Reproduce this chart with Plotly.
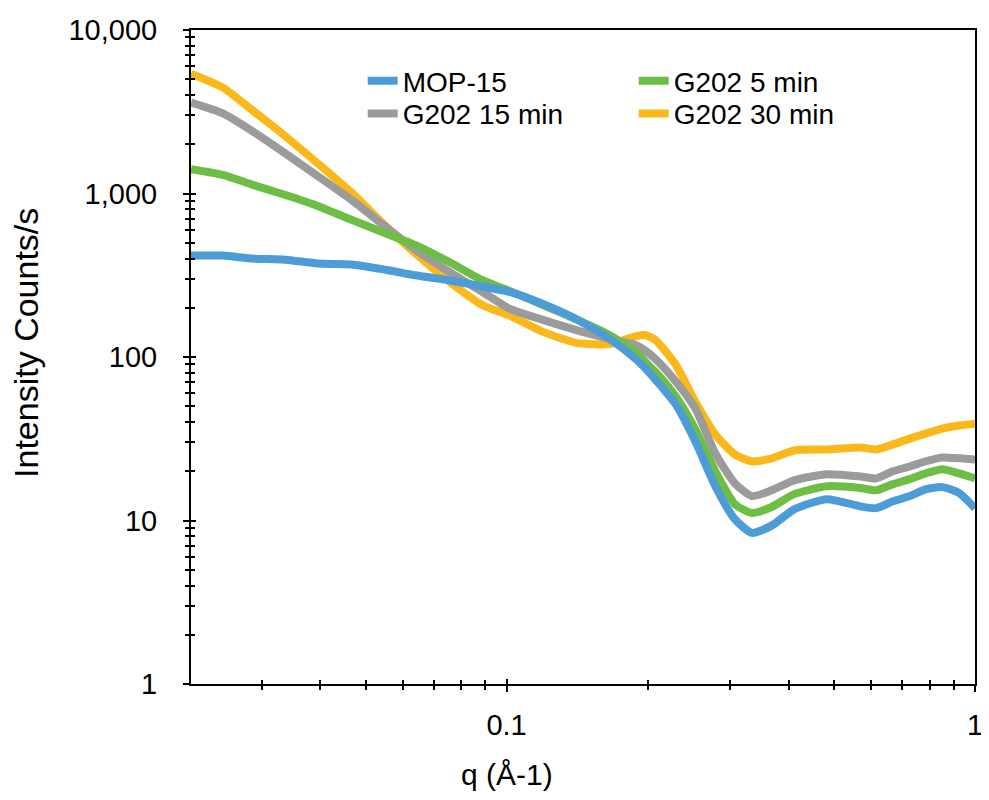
import plotly.graph_objects as go

# ---- data ----
q = [0.0212, 0.0248, 0.0287, 0.0337, 0.0395, 0.0467, 0.0548, 0.0643, 0.0758, 0.0890,
     0.102, 0.120, 0.141, 0.166, 0.189, 0.198, 0.208, 0.230, 0.253, 0.279,
     0.307, 0.334, 0.368, 0.411, 0.483, 0.569, 0.615, 0.668, 0.726, 0.784,
     0.852, 0.925, 1.0]

mop15 = [417, 417, 400, 394, 373, 368, 343, 315, 294, 270,
         249, 210, 170, 129, 97, 85, 72.5, 51, 30.4, 16.2,
         10.2, 8.4, 9.3, 11.7, 13.5, 12.2, 11.9, 13.1, 14.1, 15.5,
         16.0, 14.7, 11.9]

g202_5 = [1410, 1300, 1130, 979, 840, 690, 575, 480, 378, 294,
          252, 207, 170, 136, 107, 93, 81, 57, 36, 20,
          12.6, 11.1, 12.1, 14.5, 16.2, 15.8, 15.3, 16.7, 17.9, 19.4,
          20.6, 19.4, 18.1]

g202_15 = [3600, 3090, 2400, 1760, 1280, 913, 635, 447, 329, 249,
           196, 168, 146, 129, 118, 109, 97, 70.5, 48.3, 25.7,
           16.9, 14.1, 15.3, 17.6, 19.2, 18.6, 18.1, 20.0, 21.4, 23.0,
           24.3, 24.0, 23.6]

g202_30 = [5400, 4440, 3220, 2240, 1530, 1010, 644, 423, 286, 207,
           178, 142, 122, 120, 134, 136, 127, 89, 53, 33.6,
           25.4, 23.0, 24.0, 26.8, 27.2, 28.0, 27.2, 29.2, 31.7, 34.0,
           36.5, 38.1, 39.1]

series_names = ["MOP-15", "G202 5 min", "G202 15 min", "G202 30 min"]
series_vals = [mop15, g202_5, g202_15, g202_30]
series_colors = ["#4B9CD7", "#6DBE45", "#9B9B9B", "#FBB81A"]
series_legend = ["legend", "legend", "legend2", "legend2"]

y_tickvals = [1, 10, 100, 1000, 10000]
y_ticktext = ["1", "10", "100", "1,000", "10,000"]
x_tickvals = [0.1, 1]
x_ticktext = ["0.1", "1"]

FONT = "Liberation Sans, Arial, Helvetica, sans-serif"

fig = go.Figure()

# draw back-to-front: 30 min, 15 min, 5 min, MOP-15 (as in reference)
for idx in [3, 2, 1, 0]:
    fig.add_trace(go.Scatter(
        x=q, y=series_vals[idx], mode="lines", name=series_names[idx],
        line=dict(color=series_colors[idx], width=8, shape="spline", smoothing=0.6),
        legendrank=idx + 1, legend=series_legend[idx],
    ))

# dummy trace for the overlay axes (inside half of the crossing ticks)
fig.add_trace(go.Scatter(x=[], y=[], xaxis="x2", yaxis="y2", showlegend=False,
                         hoverinfo="skip"))

x_minor = [k * 10 ** d for d in (-2, -1) for k in range(2, 10) if k * 10 ** d >= 0.0212]
y_minor = [k * 10 ** d for d in range(0, 4) for k in range(2, 10)]

xr = [-1.6737, 0]
yr = [0, 4]

common_axis = dict(type="log", showgrid=False, zeroline=False, color="black")

legend_common = dict(
    orientation="h", xanchor="left", yanchor="middle",
    entrywidth=226, entrywidthmode="pixels",
    font=dict(size=28, family=FONT), bgcolor="rgba(0,0,0,0)",
    traceorder="normal", itemwidth=30,
)

# page body has an 8px margin: figure is sized/offset so the plot lands where the reference has it
fig.update_layout(
    width=981, height=784,
    margin=dict(l=183, r=6, t=18, b=108),
    paper_bgcolor="white", plot_bgcolor="white",
    font=dict(family=FONT, size=29, color="black"),
    showlegend=True,
    legend=dict(**legend_common, x=0.219, y=0.922),
    legend2=dict(**legend_common, x=0.219, y=0.872),
    xaxis=dict(
        **common_axis, range=xr,
        showline=True, linecolor="black", linewidth=2, mirror=True,
        tickmode="array", tickvals=x_tickvals, ticktext=x_ticktext,
        ticks="outside", ticklen=6, tickwidth=2, tickcolor="black",
        minor=dict(tickmode="array", tickvals=x_minor, ticks="outside",
                   ticklen=4, tickwidth=1.5, tickcolor="black"),
        ticklabelstandoff=8, tickfont=dict(size=29), ticklabeloverflow="allow",
    ),
    yaxis=dict(
        **common_axis, range=yr,
        showline=True, linecolor="black", linewidth=2, mirror=True,
        tickmode="array", tickvals=y_tickvals, ticktext=y_ticktext,
        ticks="outside", ticklen=6, tickwidth=2, tickcolor="black",
        minor=dict(tickmode="array", tickvals=y_minor, ticks="outside",
                   ticklen=4, tickwidth=1.5, tickcolor="black"),
        ticklabelstandoff=20, tickfont=dict(size=29),
    ),
    xaxis2=dict(
        **common_axis, range=xr, overlaying="x", anchor="y2", side="bottom",
        showline=False, showticklabels=False,
        tickmode="array", tickvals=x_tickvals,
        ticks="inside", ticklen=5, tickwidth=2, tickcolor="black",
        minor=dict(tickmode="array", tickvals=x_minor, ticks="inside",
                   ticklen=4, tickwidth=1.5, tickcolor="black"),
    ),
    yaxis2=dict(
        **common_axis, range=yr, overlaying="y", anchor="x2", side="left",
        showline=False, showticklabels=False,
        tickmode="array", tickvals=y_tickvals,
        ticks="inside", ticklen=5, tickwidth=2, tickcolor="black",
        minor=dict(tickmode="array", tickvals=y_minor, ticks="inside",
                   ticklen=4, tickwidth=1.5, tickcolor="black"),
    ),
    annotations=[
        dict(text="Intensity Counts/s", xref="paper", yref="paper",
             x=-0.2096, y=0.521, xanchor="center", yanchor="middle",
             textangle=-90, showarrow=False, font=dict(size=34, family=FONT)),
        dict(text="q (Å-1)", xref="paper", yref="paper",
             x=0.403, y=-0.139, xanchor="center", yanchor="middle",
             showarrow=False, font=dict(size=30, family=FONT)),
    ],
)

fig.write_html("out.html")
